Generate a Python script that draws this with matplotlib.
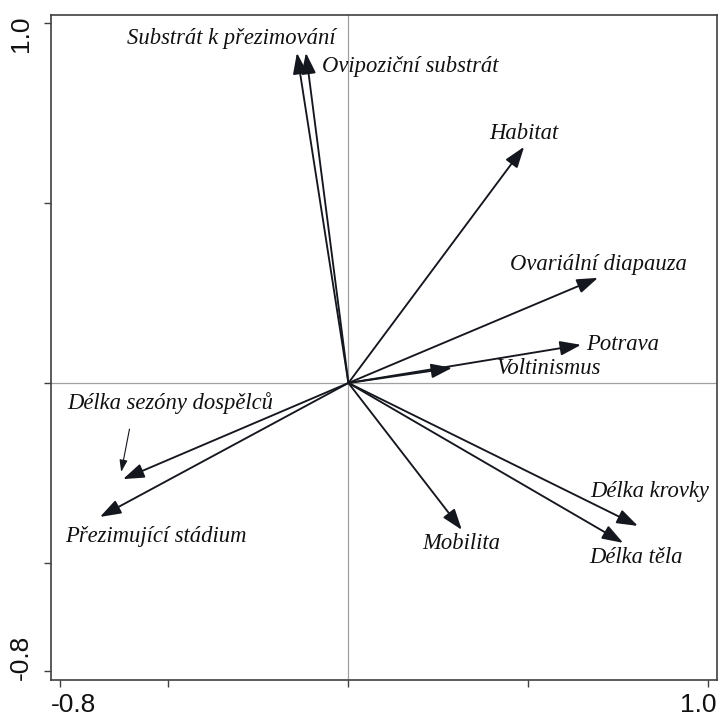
import matplotlib
matplotlib.use("Agg")
import matplotlib.pyplot as plt
from matplotlib import transforms

# trait loadings on the first two ordination axes
TRAITS = [
    "Substrát k přezimování", "Ovipoziční substrát", "Habitat",
    "Ovariální diapauza", "Potrava", "Voltinismus", "Délka krovky",
    "Délka těla", "Mobilita", "Délka sezóny dospělců", "Přezimující stádium",
]
AXIS1 = [-0.143, -0.118, 0.488, 0.693, 0.646, 0.288, 0.804, 0.763, 0.315, -0.626, -0.690]
AXIS2 = [0.917, 0.917, 0.656, 0.292, 0.106, 0.042, -0.397, -0.444, -0.408, -0.267, -0.372]

TICKS = [-0.8, -0.5, 0.0, 0.5, 1.0]
END_LABELS = ["-0.8", "1.0"]

# label placement (x, y, ha)
LABEL_POS = {
    "Substrát k přezimování": (-0.326, 0.958, "center"),
    "Ovipoziční substrát": (0.171, 0.878, "center"),
    "Habitat": (0.488, 0.694, "center"),
    "Ovariální diapauza": (0.693, 0.328, "center"),
    "Potrava": (0.66, 0.106, "left"),
    "Voltinismus": (0.4125, 0.039, "left"),
    "Délka krovky": (0.8375, -0.30, "center"),
    "Délka těla": (0.80, -0.486, "center"),
    "Mobilita": (0.3125, -0.447, "center"),
    "Délka sezóny dospělců": (-0.782, -0.056, "left"),
    "Přezimující stádium": (-0.7875, -0.425, "left"),
}

ARROW_COLOR = "#15171f"

fig = plt.figure(figsize=(7.18, 7.19), dpi=100, facecolor="white")
ax = fig.add_axes([0.0710, 0.0542, 0.9276, 0.9249])
ax.set_xlim(-0.826, 1.0236)
ax.set_ylim(-0.825, 1.022)

ax.axhline(0, color="#a0a0a0", lw=0.9, zorder=1)
ax.axvline(0, color="#a0a0a0", lw=0.9, zorder=1)

for name, x, y in zip(TRAITS, AXIS1, AXIS2):
    ax.annotate("", xy=(x, y), xytext=(0, 0),
                arrowprops=dict(arrowstyle="-|>,head_length=0.75,head_width=0.26",
                                mutation_scale=17, color=ARROW_COLOR, lw=1.35,
                                shrinkA=0, shrinkB=0), zorder=3)
    lx, ly, ha = LABEL_POS[name]
    ax.text(lx, ly, name, ha=ha, va="center", fontsize=16.3, style="italic",
            family="Liberation Serif", color="#111111", zorder=4)

# pointer from the label to its arrow
ax.annotate("", xy=(-0.631, -0.247), xytext=(-0.608, -0.128),
            arrowprops=dict(arrowstyle="-|>,head_length=0.6,head_width=0.2",
                            mutation_scale=12, color=ARROW_COLOR, lw=0.8,
                            shrinkA=0, shrinkB=0))

ax.set_xticks(TICKS)
ax.set_yticks(TICKS)
ax.set_xticklabels([])
ax.set_yticklabels([])
ax.tick_params(direction="out", length=5, width=1, color="#404040")

# end labels kept inside the axis extent
xt = transforms.blended_transform_factory(ax.transAxes, ax.transAxes)
tick_font = dict(fontsize=19, family="Liberation Sans", color="#111111")
ax.text(0.0, -0.02, END_LABELS[0], transform=xt, ha="left", va="top", **tick_font)
ax.text(1.0, -0.02, END_LABELS[1], transform=xt, ha="right", va="top", **tick_font)
ax.text(-0.027, 0.0, END_LABELS[0], transform=xt, ha="right", va="bottom",
        rotation=90, **tick_font)
ax.text(-0.027, 1.0, END_LABELS[1], transform=xt, ha="right", va="top",
        rotation=90, **tick_font)

for sp in ax.spines.values():
    sp.set_color("#404040")
    sp.set_linewidth(1.2)

fig.savefig("out.png", dpi=100, facecolor="white")
